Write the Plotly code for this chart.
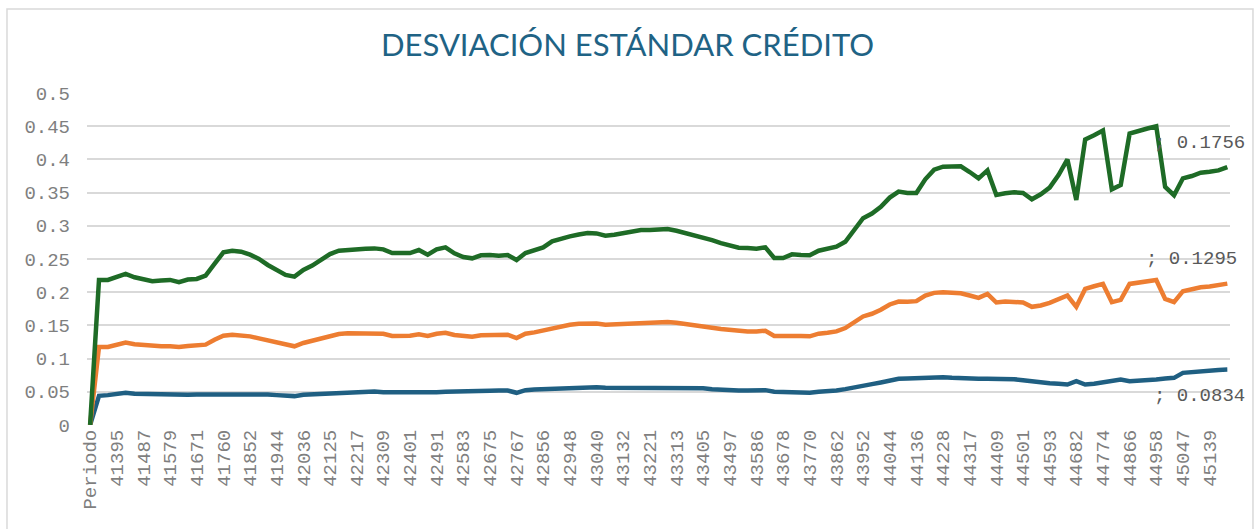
import plotly.graph_objects as go

# Category labels (Excel serial dates, monthly) preceded by header cell "Periodo"
categories = ["Periodo",
    "41334", "41365", "41395", "41426", "41456", "41487", "41518", "41548", "41579", "41609",
    "41640", "41671", "41699", "41730", "41760", "41791", "41821", "41852", "41883", "41913", "41944", "41974",
    "42005", "42036", "42064", "42095", "42125", "42156", "42186", "42217", "42248", "42278", "42309", "42339",
    "42370", "42401", "42430", "42461", "42491", "42522", "42552", "42583", "42614", "42644", "42675", "42705",
    "42736", "42767", "42795", "42826", "42856", "42887", "42917", "42948", "42979", "43009", "43040", "43070",
    "43101", "43132", "43160", "43191", "43221", "43252", "43282", "43313", "43344", "43374", "43405", "43435",
    "43466", "43497", "43525", "43556", "43586", "43617", "43647", "43678", "43709", "43739", "43770", "43800",
    "43831", "43862", "43891", "43922", "43952", "43983", "44013", "44044", "44075", "44105", "44136", "44166",
    "44197", "44228", "44256", "44287", "44317", "44348", "44378", "44409", "44440", "44470", "44501", "44531",
    "44562", "44593", "44621", "44652", "44682", "44713", "44743", "44774", "44805", "44835", "44866", "44896",
    "44927", "44958", "44986", "45017", "45047", "45078", "45108", "45139", "45170", "45200"]

# Stacked series values (each series added on top of the previous one)
serie_1 = [0,
    0.044, 0.045, 0.047, 0.0485, 0.047, 0.0465, 0.0465, 0.046, 0.046, 0.0455,
    0.0455, 0.046, 0.046, 0.0465, 0.047, 0.0475, 0.047, 0.0465, 0.0465, 0.046, 0.045, 0.044,
    0.0435, 0.0455, 0.046, 0.0475, 0.0485, 0.049, 0.0495, 0.0495, 0.05, 0.0505, 0.0495, 0.049,
    0.0495, 0.0495, 0.0495, 0.049, 0.0495, 0.05, 0.05, 0.0505, 0.0505, 0.051, 0.0515, 0.052,
    0.052, 0.0485, 0.0525, 0.0535, 0.054, 0.055, 0.056, 0.0565, 0.057, 0.0575, 0.057, 0.056,
    0.056, 0.056, 0.056, 0.0565, 0.0565, 0.0565, 0.0565, 0.0565, 0.056, 0.056, 0.0555, 0.054,
    0.053, 0.0525, 0.052, 0.052, 0.052, 0.0525, 0.05, 0.0495, 0.0495, 0.0485, 0.0485, 0.05,
    0.0505, 0.052, 0.054, 0.057, 0.0595, 0.0615, 0.064, 0.0675, 0.0695, 0.07, 0.0705, 0.071,
    0.072, 0.072, 0.071, 0.07, 0.0695, 0.0695, 0.0695, 0.0695, 0.0695, 0.069, 0.0675, 0.0655,
    0.064, 0.063, 0.062, 0.061, 0.066, 0.061, 0.062, 0.064, 0.066, 0.0685, 0.066, 0.0665,
    0.0675, 0.0685, 0.07, 0.071, 0.0785, 0.08, 0.0815, 0.082, 0.083, 0.0834]

serie_2 = [0,
    0.0735, 0.0725, 0.074, 0.0755, 0.0745, 0.0735, 0.072, 0.0725, 0.0725, 0.072,
    0.0735, 0.0735, 0.075, 0.082, 0.0875, 0.0885, 0.088, 0.087, 0.084, 0.0815, 0.0795, 0.076,
    0.075, 0.078, 0.081, 0.0825, 0.086, 0.088, 0.0885, 0.0885, 0.0885, 0.0885, 0.088, 0.085,
    0.0845, 0.085, 0.087, 0.085, 0.088, 0.089, 0.0855, 0.083, 0.0825, 0.084, 0.084, 0.0835,
    0.084, 0.0825, 0.085, 0.086, 0.0885, 0.091, 0.093, 0.0945, 0.0955, 0.0955, 0.096, 0.095,
    0.0955, 0.0965, 0.0975, 0.097, 0.097, 0.0985, 0.0985, 0.0975, 0.0965, 0.095, 0.094, 0.0925,
    0.0915, 0.0905, 0.0895, 0.089, 0.089, 0.0895, 0.084, 0.0845, 0.086, 0.0855, 0.085, 0.0875,
    0.0885, 0.089, 0.092, 0.0975, 0.104, 0.106, 0.1095, 0.114, 0.1165, 0.1155, 0.116, 0.124,
    0.127, 0.128, 0.128, 0.1285, 0.1255, 0.122, 0.128, 0.115, 0.1165, 0.117, 0.117, 0.1125,
    0.116, 0.121, 0.127, 0.134, 0.112, 0.144, 0.147, 0.1485, 0.119, 0.12, 0.1465, 0.148,
    0.149, 0.15, 0.12, 0.114, 0.123, 0.1245, 0.126, 0.1265, 0.127, 0.1295]

serie_3 = [0,
    0.101, 0.101, 0.1015, 0.1035, 0.101, 0.0995, 0.098, 0.099, 0.1, 0.0975,
    0.1, 0.1005, 0.104, 0.114, 0.1255, 0.1265, 0.126, 0.123, 0.1195, 0.1135, 0.109, 0.106,
    0.105, 0.11, 0.113, 0.1185, 0.123, 0.1255, 0.126, 0.127, 0.127, 0.127, 0.127, 0.125,
    0.1245, 0.1245, 0.127, 0.1225, 0.127, 0.1285, 0.123, 0.1195, 0.118, 0.1205, 0.1205, 0.1195,
    0.12, 0.1175, 0.1215, 0.123, 0.125, 0.1305, 0.132, 0.133, 0.1345, 0.136, 0.1355, 0.134,
    0.135, 0.1365, 0.139, 0.14, 0.14, 0.14, 0.14, 0.1385, 0.1365, 0.1355, 0.134, 0.132,
    0.1295, 0.1275, 0.1255, 0.1255, 0.1245, 0.1255, 0.1175, 0.1175, 0.1215, 0.122, 0.122, 0.125,
    0.126, 0.1275, 0.13, 0.138, 0.148, 0.151, 0.155, 0.161, 0.1655, 0.164, 0.163, 0.175,
    0.1855, 0.189, 0.1895, 0.191, 0.186, 0.18, 0.186, 0.162, 0.163, 0.1645, 0.165, 0.162,
    0.1675, 0.1735, 0.1875, 0.205, 0.161, 0.225, 0.2275, 0.231, 0.17, 0.173, 0.2265, 0.229,
    0.23, 0.2315, 0.1685, 0.161, 0.17, 0.1705, 0.1725, 0.173, 0.1735, 0.1756]

series = [("Serie 1", serie_1, "#1F5F82"),
          ("Serie 2", serie_2, "#ED7D31"),
          ("Serie 3", serie_3, "#1E6B26")]

mono = "Liberation Mono, Courier New, monospace"

fig = go.Figure()
for name, vals, color in series:
    fig.add_trace(go.Scatter(
        x=categories, y=vals, name=name, mode="lines",
        stackgroup="one", fill="none",
        line=dict(color=color, width=4.5), showlegend=False))

# Data labels on the last point of each series
cum = 0
last_idx = len(categories) - 1
shifts = [(-28, -26), (-36, 25), (-28, 24)]
for (name, vals, color), (dx, dy) in zip(series, shifts):
    cum += vals[-1]
    fig.add_annotation(x=last_idx, y=cum, text=f"; {vals[-1]:.4f}",
                       showarrow=False, xshift=dx, yshift=dy,
                       font=dict(family=mono, size=19, color="#595959"))

fig.update_layout(
    width=1255, height=529,
    margin=dict(l=87, r=25, t=93, b=104),
    paper_bgcolor="white", plot_bgcolor="white",
    title=dict(text="DESVIACIÓN ESTÁNDAR CRÉDITO", x=0.5, xref="container", xanchor="center",
               y=0.915, yref="container", yanchor="middle",
               font=dict(family="Lato, Open Sans, sans-serif", size=31, color="#1F6385")),
    xaxis=dict(type="category", range=[-0.35, 128.3],
               tickmode="array", tickvals=categories[::3], ticktext=categories[::3],
               tickangle=-90, showgrid=False, zeroline=False, showline=False,
               ticks="", ticklen=0,
               tickfont=dict(family=mono, size=19, color="#7F7F7F")),
    yaxis=dict(range=[0, 0.5], dtick=0.05, tickformat="~g",
               showgrid=True, gridcolor="#D9D9D9", gridwidth=1.5,
               zeroline=False, showline=False, ticks="", ticklabelstandoff=16,
               tickfont=dict(family=mono, size=19, color="#7F7F7F")),
    shapes=[dict(type="rect", xref="paper", yref="paper",
                 x0=-0.07, x1=1.0201, y0=-0.32, y1=1.253,
                 line=dict(color="#D9D9D9", width=1.5), fillcolor="rgba(0,0,0,0)",
                 layer="below")],
)

fig.write_html("out.html", config={"displayModeBar": False},
               post_script="document.body.style.margin='0';document.body.style.overflow='hidden';")
